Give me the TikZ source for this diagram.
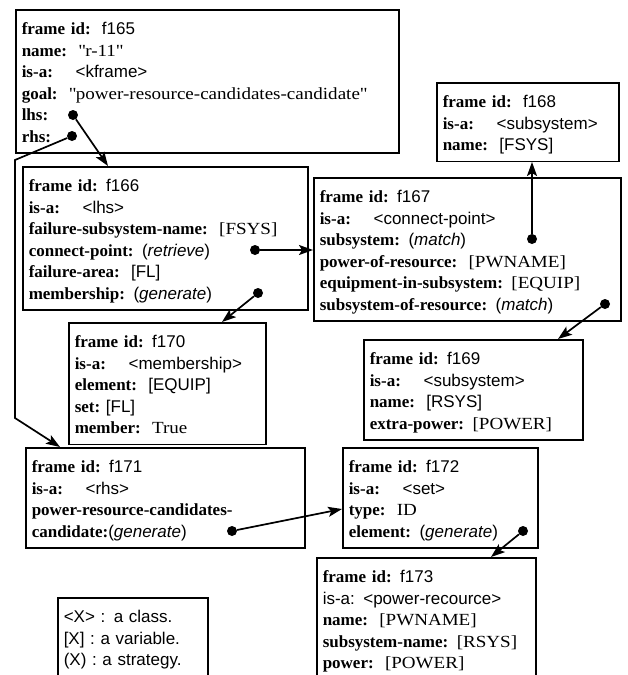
\documentclass[tikz,border=0pt]{standalone}
\usepackage{fontspec}
\setmainfont{Liberation Serif}[FakeStretch=1.12]
\setsansfont{Liberation Sans}
\newfontfamily\keyfont{Liberation Serif}
\usetikzlibrary{shapes,arrows.meta}
\newcommand{\kw}[1]{{\keyfont\bfseries #1}}
\newcommand{\cls}[1]{\textsf{#1}}
\newcommand{\stg}[1]{\textsf{(\textit{#1})}}

\begin{document}
\begin{tikzpicture}[x=1pt, y=-1pt, >={Stealth[length=14pt, width=10pt, inset=3pt]}]
	\tikzset{
		frame/.style={rectangle, draw=black, line width=1.5pt, anchor=north west, align=left, inner xsep=6pt, inner ysep=4pt, font=\fontsize{17}{21.5}\selectfont, execute at begin node={\rule{0pt}{21pt}}, execute at end node={\rule[-6.5pt]{0pt}{6.5pt}}},
		dot/.style={circle, fill=black, inner sep=0pt, minimum size=10pt},
		link/.style={line width=1.7pt, ->},
	}
	\clip (0,0) rectangle (628,675);
	% frames
	\node[frame, text width=371pt] (f165) at (15,9) {\kw{frame id:}\ \ \cls{f165}\\ \kw{name:}\ \ \textquotedbl r-11\textquotedbl\\ \kw{is-a:}\quad\ \cls{<kframe>}\\ \kw{goal:}\ \ \textquotedbl power-resource-candidates-candidate\textquotedbl\\ \kw{lhs:}\\ \kw{rhs:}};
	\node[frame, text width=273pt] (f166) at (22,166) {\kw{frame id:} \cls{f166}\\ \kw{is-a:}\quad\ \cls{<lhs>}\\ \kw{failure-subsystem-name:}\ \ [FSYS]\\ \kw{connect-point:} \stg{retrieve}\\ \kw{failure-area:}\ \ \cls{[FL]}\\ \kw{membership:} \stg{generate}};
	\node[frame, text width=295pt] (f167) at (313,177) {\kw{frame id:} \cls{f167}\\ \kw{is-a:}\quad\ \cls{<connect-point>}\\ \kw{subsystem:} \stg{match}\\ \kw{power-of-resource:}\ \ [PWNAME]\\ \kw{equipment-in-subsystem:} [EQUIP]\\ \kw{subsystem-of-resource:} \stg{match}};
	\node[frame, text width=170pt] (f168) at (436,82) {\kw{frame id:}\ \ \cls{f168}\\ \kw{is-a:}\quad\ \cls{<subsystem>}\\ \kw{name:}\ \ \cls{[FSYS]}};
	\node[frame, text width=185pt] (f170) at (68,322) {\kw{frame id:} \cls{f170}\\ \kw{is-a:}\quad\ \cls{<membership>}\\ \kw{element:}\ \ \cls{[EQUIP]}\\ \kw{set:}\ \cls{[FL]}\\ \kw{member:}\ \ True};
	\node[frame, text width=207pt] (f169) at (363,339) {\kw{frame id:} \cls{f169}\\ \kw{is-a:}\quad\ \cls{<subsystem>}\\ \kw{name:}\ \ \cls{[RSYS]}\\ \kw{extra-power:} [POWER]};
	\node[frame, text width=267pt] (f171) at (25,447) {\kw{frame id:} \cls{f171}\\ \kw{is-a:}\quad\ \cls{<rhs>}\\ \kw{power-resource-candidates-}\\ \kw{candidate:}\stg{generate}};
	\node[frame, text width=183pt] (f172) at (342,447) {\kw{frame id:} \cls{f172}\\ \kw{is-a:}\quad\ \cls{<set>}\\ \kw{type:}\ \ ID\\ \kw{element:} \stg{generate}};
	\node[frame, text width=207pt] (f173) at (316,557) {\kw{frame id:} \cls{f173}\\ \cls{is-a: <power-recource>}\\ \kw{name:}\ \ [PWNAME]\\ \kw{subsystem-name:} [RSYS]\\ \kw{power:}\ \ [POWER]\\ };
	\node[frame, text width=138pt, font=\sffamily\fontsize{17}{21.5}\selectfont] (key) at (57,597) {<X> : a class.\\ {[X]} : a variable.\\ (X) : a strategy.\\ };
	% slot dots
	\node[dot] (lhs) at (73,115) {};
	\node[dot] (rhs) at (72,136) {};
	\node[dot] (cp) at (255,250) {};
	\node[dot] (mem) at (258,293) {};
	\node[dot] (sub) at (532,239) {};
	\node[dot] (sor) at (605,304) {};
	\node[dot] (cand) at (232,531) {};
	\node[dot] (elem) at (523,531) {};
	\coordinate (bendA) at (15,160);
	\coordinate (bendB) at (15,418);
	%draw arrows
	\draw[link] (lhs) -- ([xshift=86pt]f166.north west);
	\draw[link] (rhs) -- (bendA) -- (bendB) -- ([xshift=35pt]f171.north west);
	\draw[link] (cp) -- (cp -| f167.west);
	\draw[link] (mem) -- ([xshift=154pt]f170.north west);
	\draw[link] (sub) -- (sub |- f168.south);
	\draw[link] (sor) -- ([xshift=195pt]f169.north west);
	\draw[link] (cand) -- ([yshift=-62pt]f172.north west);
	\draw[link] (elem) -- ([xshift=175pt]f173.north west);
\end{tikzpicture}
\end{document}
